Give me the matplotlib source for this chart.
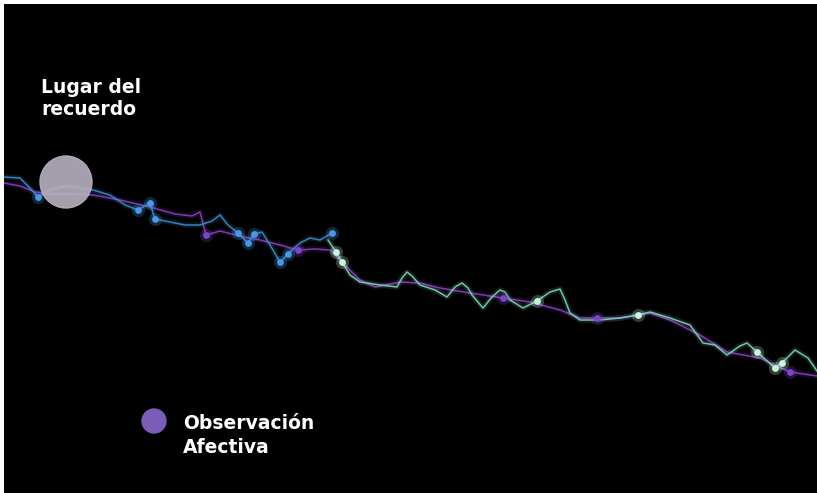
import matplotlib.pyplot as plt
from matplotlib.patches import Circle

# purple line (observacion afectiva)
purple_x = [4, 20, 35, 50, 70, 93, 120, 150, 175, 192, 200, 206, 220, 240, 260, 280, 298, 315, 330,
            345, 360, 375, 400, 420, 440, 470, 503, 530, 560, 580, 597, 620, 650, 670, 700, 727, 760, 790, 817]
purple_y = [183, 186, 192, 194, 194, 195, 200, 207, 214, 216, 212, 235, 231, 236, 240, 245, 250, 249, 250,
            265, 280, 287, 282, 283, 288, 293, 298, 302, 310, 318, 318, 318, 313, 320, 335, 352, 358, 372, 376]

# blue line (first part of the route)
blue_x = [4, 20, 30, 38, 50, 66, 93, 110, 125, 138, 150, 155, 170, 185, 200, 212, 220, 228, 238, 248,
          254, 262, 270, 280, 288, 300, 310, 320, 332]
blue_y = [177, 178, 188, 197, 190, 186, 190, 195, 205, 210, 203, 219, 222, 225, 225, 221, 215, 225, 233, 243,
          234, 232, 245, 262, 254, 243, 238, 240, 233]

# green line (second part of the route)
green_x = [328, 336, 342, 350, 360, 380, 397, 402, 407, 412, 420, 435, 447, 455, 462, 468, 472, 483, 492, 500,
           505, 510, 523, 537, 550, 560, 565, 570, 580, 600, 620, 638, 650, 670, 690, 703, 715, 727, 740, 747,
           757, 775, 782, 795, 808, 817]
green_y = [240, 252, 262, 275, 282, 285, 287, 278, 272, 276, 285, 290, 297, 287, 283, 288, 295, 308, 297, 290,
           292, 300, 308, 301, 292, 289, 300, 313, 320, 320, 318, 315, 312, 318, 325, 343, 345, 355, 346, 343,
           352, 368, 363, 350, 358, 371]

# points along the route
blue_pts_x = [38, 138, 150, 155, 238, 248, 254, 280, 288, 332]
blue_pts_y = [197, 210, 203, 219, 233, 243, 234, 262, 254, 233]
green_pts_x = [336, 342, 537, 638, 757, 775, 782]
green_pts_y = [252, 262, 301, 315, 352, 368, 363]
purple_pts_x = [206, 298, 503, 597, 790]
purple_pts_y = [235, 250, 298, 318, 372]

memory_place = (66, 182)

fig = plt.figure(figsize=(8.17, 4.93), dpi=100, facecolor="white")
ax = fig.add_axes([4 / 817, 0, 813 / 817, 489 / 493])
ax.set_facecolor("black")
ax.set_xlim(4, 817)
ax.set_ylim(493, 4)
ax.axis("off")
ax.add_patch(plt.Rectangle((4, 4), 813, 489, color="black", zorder=0))

# lines with a soft glow
for xs, ys, c in [(purple_x, purple_y, "#8a3fc0"), (blue_x, blue_y, "#3b8fc8"), (green_x, green_y, "#7fd6b8")]:
    ax.plot(xs, ys, color=c, lw=4, alpha=0.15, solid_joinstyle="round", solid_capstyle="round")
    ax.plot(xs, ys, color=c, lw=1.1, alpha=0.9, solid_joinstyle="round")

for xs, ys, c in [(blue_pts_x, blue_pts_y, "#4a98e8"), (green_pts_x, green_pts_y, "#c8f5dc"),
                  (purple_pts_x, purple_pts_y, "#7a45c8")]:
    ax.scatter(xs, ys, s=90, color=c, alpha=0.25, lw=0, zorder=3)
    ax.scatter(xs, ys, s=24, color=c, lw=0, zorder=4)

ax.add_patch(Circle(memory_place, 26, color="#b8b0c0", alpha=0.9, zorder=5))

ax.text(41, 115, "Lugar del\nrecuerdo", color="white", fontsize=13.5, fontweight="bold",
        family="DejaVu Sans", va="baseline", ha="left", linespacing=1.22)

ax.add_patch(Circle((154, 421), 12, color="#7b5cb8", zorder=5))
ax.text(183, 453, "Observación\nAfectiva", color="white", fontsize=13.5, fontweight="bold",
        family="DejaVu Sans", va="baseline", ha="left", linespacing=1.32)

fig.savefig("out.png", dpi=100, facecolor="white")
